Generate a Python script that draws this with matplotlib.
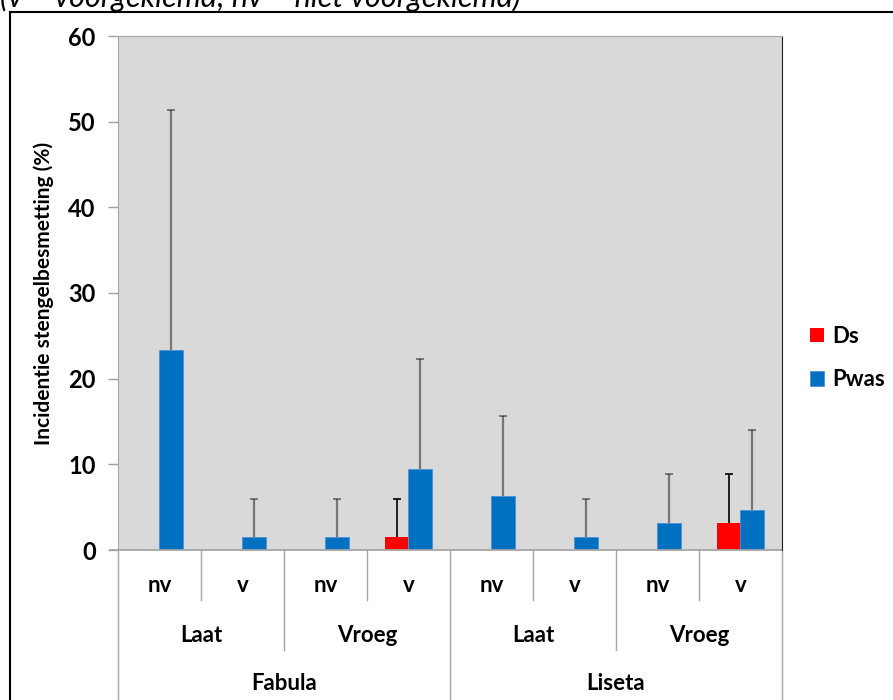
import numpy as np
import matplotlib
matplotlib.use('Agg')
from matplotlib import pyplot as plt
from matplotlib.lines import Line2D
from matplotlib.transforms import blended_transform_factory

plt.rcParams['font.family'] = ['Lato', 'DejaVu Sans']

# stem infection per cultivar / planting time / pre-sprouting
rassen = ['Fabula', 'Liseta']
tijdstip = ['Laat', 'Vroeg']
kieming = ['nv', 'v']

ds = [0, 0, 0, 1.56, 0, 0, 0, 3.1]
ds_err = [np.nan, np.nan, np.nan, 4.44, np.nan, np.nan, np.nan, 5.8]
pwas = [23.4, 1.56, 1.56, 9.4, 6.25, 1.56, 3.1, 4.7]
pwas_err = [28.0, 4.44, 4.44, 12.9, 9.45, 4.44, 5.8, 9.3]

W, H = 893, 700
fig = plt.figure(figsize=(W / 100, H / 100), dpi=100)

def fx(px):
    return px / W

def fy(py):
    return 1 - py / H

ax = fig.add_axes([fx(118), fy(550), fx(782) - fx(118), fy(36) - fy(550)])
ax.set_facecolor('#D9D9D9')

x = np.arange(len(pwas))
bw = 0.28
red, blue = '#FF0000', '#0070C0'
ax.bar(x - bw / 2, ds, bw, color=red, linewidth=0, label='Ds', zorder=2)
ax.bar(x + bw / 2, pwas, bw, color=blue, edgecolor='#4a92d2', linewidth=0.6, label='Pwas', zorder=2)

# upward error bars only: hide the caps at the bar base
_, caps, _ = ax.errorbar(x - bw / 2, ds, yerr=[np.zeros(len(ds)), ds_err], fmt='none',
                         ecolor='black', elinewidth=1.2, capsize=3, capthick=1.2, zorder=3)
caps[0].set_visible(False)
_, caps2, _ = ax.errorbar(x + bw / 2, pwas, yerr=[np.zeros(len(pwas)), pwas_err], fmt='none',
                          ecolor=(0, 0, 0, 0.45), elinewidth=1.6, capsize=3, capthick=1.4, zorder=3)
caps2[0].set_visible(False)
caps2[1].set_color('#222222')

ax.set_xlim(-0.5, len(pwas) - 0.5)
ax.set_ylim(0, 60)
ax.set_yticks(range(0, 61, 10))
ax.tick_params(axis='y', length=7, width=1, color='#A0A0A0', pad=9, labelsize=17)
for t in ax.get_yticklabels():
    t.set_fontweight('bold')
ax.set_xticks([])
ax.set_ylabel('Incidentie stengelbesmetting (%)', fontsize=15, fontweight='bold', labelpad=10)

for s in ['left', 'top', 'bottom']:
    ax.spines[s].set_color('#A6A6A6')
ax.spines['bottom'].set_visible(False)
ax.spines['right'].set_color('#222222')

# multi-level category axis
tr = blended_transform_factory(ax.transData, fig.transFigure)
ax.add_line(Line2D([-0.6, len(pwas) - 0.5], [fy(550), fy(550)], transform=tr,
                   color='#A6A6A6', lw=1.3, clip_on=False))
for b in np.arange(-0.5, len(pwas), 1.0):
    k = int(b + 0.5)
    if k % 4 == 0:
        bottom = 700
    elif k % 2 == 0:
        bottom = 650
    else:
        bottom = 600
    ax.add_line(Line2D([b, b], [fy(550), fy(bottom)], transform=tr,
                       color='#A6A6A6', lw=1, clip_on=False))

lab = dict(transform=tr, ha='center', va='center', fontsize=16, fontweight='bold')
for i in range(len(pwas)):
    ax.text(i, fy(585), kieming[i % 2], **lab)
for j in range(4):
    ax.text(2 * j + 0.5, fy(635), tijdstip[j % 2], **lab)
for r, naam in enumerate(rassen):
    ax.text(4 * r + 1.5, fy(683), naam, **lab)

leg = fig.legend(loc='center left', bbox_to_anchor=(fx(810), fy(358)), frameon=False,
                 borderpad=0, borderaxespad=0,
                 handlelength=0.65, handleheight=0.65, handletextpad=0.35, labelspacing=1.0,
                 prop={'size': 16, 'weight': 'bold'})

# outer frame and caption line above
fig.add_artist(Line2D([fx(10), fx(10)], [0, fy(12)], color='black', lw=1.5))
fig.add_artist(Line2D([fx(10), 1], [fy(12), fy(12)], color='black', lw=1.5))
fig.text(0, fy(6.5), '(v = voorgekiemd; nv = niet voorgekiemd)', fontsize=22,
         style='italic', va='baseline', ha='left')

fig.savefig('out.png', dpi=100)
